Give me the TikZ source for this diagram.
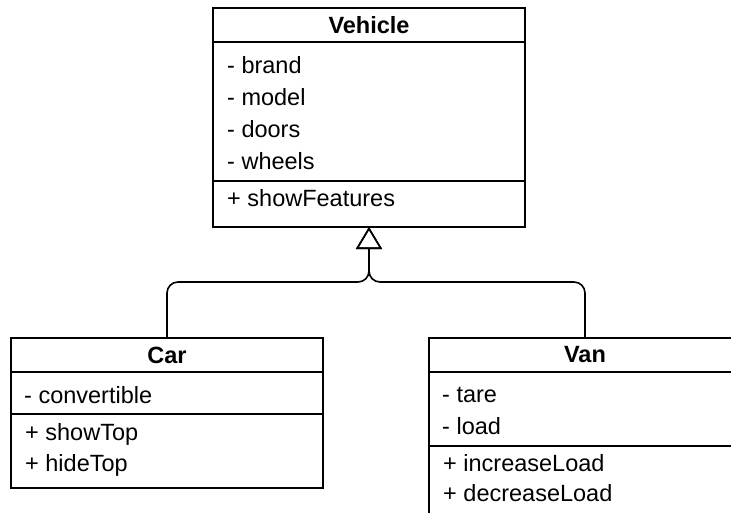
\documentclass[tikz,border=0pt]{standalone}
\usepackage{fontspec}
\setmainfont{Liberation Sans}
\usetikzlibrary{arrows.meta,calc,positioning}
\newcommand\umlfont{\fontsize{23.5}{28}\selectfont}
\tikzset{
  umlbox/.style={draw,line width=1.6pt,minimum width=312pt,inner sep=0,outer sep=0},
  umlhead/.style={umlbox,minimum height=34pt,font=\umlfont\bfseries},
  umlpart/.style={umlbox,minimum height=#1},
  umlitem/.style={anchor=base west,inner sep=0,font=\umlfont},
  inherit/.style={line width=1.6pt,rounded corners=11pt,-{Triangle[open,length=22pt,width=26pt]}}
}

\begin{document}
\begin{tikzpicture}[x=1pt,y=-1pt]
\useasboundingbox (0,0) rectangle (731,512);
% ---------- Vehicle: 4 attributes, 1 operation ----------
\node[umlhead] (vehicle) at (369,25) {Vehicle};
\node[umlpart=139pt,below=0pt of vehicle] (vehicleattr) {};
\node[umlpart=46pt,below=0pt of vehicleattr] (vehicleops) {};
\foreach \m [count=\i from 0] in {brand,model,doors,wheels}
  \node[umlitem] (vehicleattr\i) at ($(vehicleattr.north west)+(14,31+32*\i)$) {- \m};
\node[umlitem] (vehicleops0) at ($(vehicleops.north west)+(14,25)$) {+ showFeatures};
% ---------- Car: 1 attribute, 2 operations ----------
\node[umlhead] (car) at (167,355) {Car};
\node[umlpart=42pt,below=0pt of car] (carattr) {};
\node[umlpart=74pt,below=0pt of carattr] (carops) {};
\node[umlitem] (carattr0) at ($(carattr.north west)+(13,31)$) {- convertible};
\foreach \m [count=\i from 0] in {showTop,hideTop}
  \node[umlitem] (carops\i) at ($(carops.north west)+(14,26+31*\i)$) {+ \m};
% ---------- Van: 2 attributes, 2 operations (runs off the page) ----------
\node[umlhead] (van) at (585,355) {Van};
\node[umlpart=74pt,below=0pt of van] (vanattr) {};
\node[umlpart=72pt,below=0pt of vanattr] (vanops) {};
\foreach \m [count=\i from 0] in {tare,load}
  \node[umlitem] (vanattr\i) at ($(vanattr.north west)+(13,30+32*\i)$) {- \m};
\foreach \m [count=\i from 0] in {increaseLoad,decreaseLoad}
  \node[umlitem] (vanops\i) at ($(vanops.north west)+(14,25+30*\i)$) {+ \m};
% ---------- generalisation ----------
\coordinate (fork) at ($(vehicleops.south)+(0,55)$);
\draw[inherit] (car.north) |- (fork) -- (vehicleops.south);
\draw[inherit] (van.north) |- (fork) -- (vehicleops.south);
\end{tikzpicture}
\end{document}
